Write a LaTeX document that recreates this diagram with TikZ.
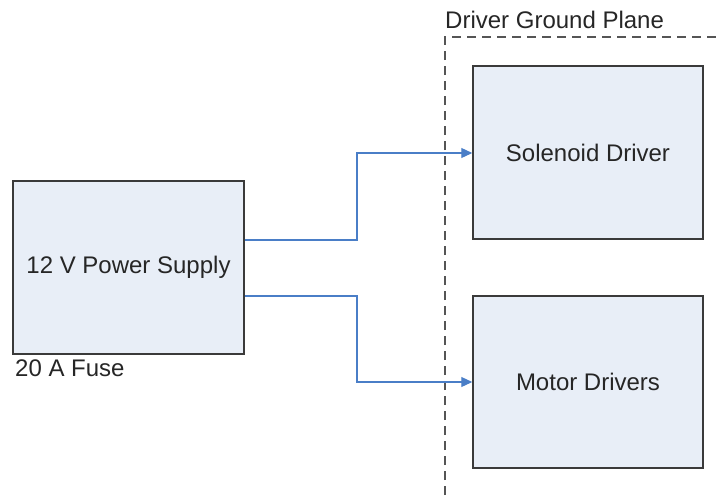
\documentclass[tikz,border=0pt]{standalone}
\usepackage{fontspec}
\setmainfont{Liberation Sans}
\usetikzlibrary{arrows.meta}
\definecolor{boxfill}{HTML}{E8EEF7}
\definecolor{boxline}{HTML}{3A3A3A}
\definecolor{wire}{HTML}{4A7EC7}
\definecolor{planeline}{HTML}{555555}
\tikzset{
  block/.style={draw=boxline, line width=1.5pt, fill=boxfill, inner sep=0pt,
    font=\fontsize{24}{28}\selectfont, text=black!85},
  wireline/.style={draw=wire, line width=1.2pt, -{Triangle[length=11pt,width=10pt]}},
  plane/.style={draw=planeline, line width=1.8pt, dash pattern=on 9pt off 6pt},
  caption/.style={font=\fontsize{24}{28}\selectfont, text=black!85, inner sep=0pt}
}
\begin{document}
\begin{tikzpicture}[x=1pt,y=-1pt]
  \useasboundingbox (0,0) rectangle (722,495);
  % ground plane boundary
  \coordinate (pc) at (445,37);
  \coordinate (pb) at (445,495);
  \coordinate (pr) at (722,37);
  \draw[plane] (pb) -- (pc) -- (pr);
  \node[caption, anchor=base west] (gp) at (445,29) {Driver Ground Plane};
  % blocks
  \node[block, minimum width=231pt, minimum height=173pt] (psu) at (128.5,267.5) {12 V Power Supply};
  \node[caption, anchor=base west] (fuse) at (15,376) {20 A Fuse};
  \node[block, minimum width=230pt, minimum height=173pt] (sol) at (588,152.5) {Solenoid Driver};
  \node[block, minimum width=230pt, minimum height=172pt] (mot) at (588,382) {Motor Drivers};
  % supply wiring
  \coordinate (j1) at (357,240);
  \coordinate (j2) at (357,153);
  \coordinate (j3) at (357,296);
  \coordinate (j4) at (357,382);
  \draw[wireline] (psu.east |- j1) -- (j1) -- (j2) -- (sol.west |- j2);
  \draw[wireline] (psu.east |- j3) -- (j3) -- (j4) -- (mot.west |- j4);
\end{tikzpicture}
\end{document}
